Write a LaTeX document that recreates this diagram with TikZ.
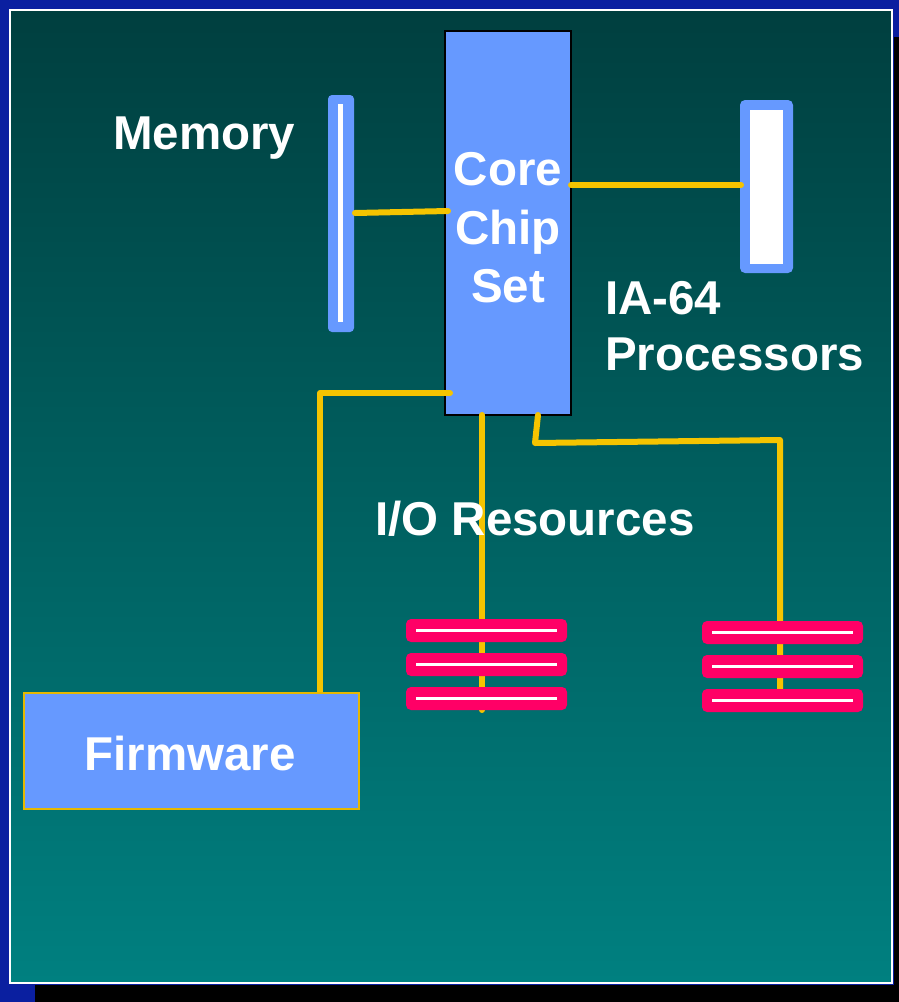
\documentclass[tikz,border=0pt]{standalone}
\usepackage{fontspec}
\setmainfont{Liberation Sans}
\definecolor{slideblue}{HTML}{0A1FA0}
\definecolor{tealtop}{HTML}{003F3F}
\definecolor{tealbot}{HTML}{008080}
\definecolor{boxblue}{HTML}{6699FF}
\definecolor{wire}{HTML}{F5C400}
\definecolor{iopink}{HTML}{FF0066}
\definecolor{fwedge}{HTML}{E6B800}
\tikzset{
  lbl/.style={text=white, font=\fontsize{47.5}{56}\selectfont\bfseries, inner sep=0pt},
  wireline/.style={draw=wire, line width=6pt, line cap=round, line join=round},
  iobar/.style={fill=iopink, rounded corners=5pt},
  ioline/.style={draw=white, line width=3pt},
}
\begin{document}
\begin{tikzpicture}[x=1pt,y=-1pt]
\useasboundingbox (0,0) rectangle (899,1002);
% slide background
\fill[slideblue] (0,0) rectangle (899,1002);
\fill[black] (35,985) rectangle (899,1002);
\fill[black] (894,37) rectangle (899,1002);
\shade[top color=tealtop, bottom color=tealbot] (10,10) rectangle (892,983);
\draw[white, line width=2pt] (10,10) rectangle (892,983);

% connectors (drawn below boxes)
\coordinate (cm1) at (355,213);
\coordinate (cm2) at (448,211);
\coordinate (cp1) at (571,185);
\coordinate (cp2) at (741,185);
\coordinate (cf0) at (450,393);
\coordinate (cf1) at (320,393);
\coordinate (cf2) at (320,693);
\coordinate (ci0) at (482,415);
\coordinate (ci1) at (482,710);
\coordinate (cj0) at (538,415);
\coordinate (cj1) at (535,443);
\coordinate (cj2) at (780,440);
\coordinate (cj3) at (780,690);

% chip set
\node[fill=boxblue, draw=black, line width=1.5pt, minimum width=126pt, minimum height=384pt, inner sep=0pt] (chip) at (508,223) {};
\node[lbl, anchor=base] (t1) at (508,185) {Core};
\node[lbl, anchor=base] (t2) at (508,244) {Chip};
\node[lbl, anchor=base] (t3) at (508,302) {Set};

% memory
\node[fill=boxblue, rounded corners=4pt, minimum width=26pt, minimum height=237pt, inner sep=0pt] (mem) at (341,213.5) {};
\draw[white, line width=5pt] (340,104) -- (340,322);
\node[lbl, anchor=base west] (memt) at (113,149) {Memory};

% processor
\node[fill=boxblue, rounded corners=5pt, minimum width=53pt, minimum height=173pt, inner sep=0pt] (proc) at (766.5,186.5) {};
\fill[white] (750,110) rectangle (783,264);
\node[lbl, anchor=base west] (pt1) at (605,314) {IA-64};
\node[lbl, anchor=base west] (pt2) at (605,370) {Processors};

% wires
\draw[wireline] (cm1) -- (cm2);
\draw[wireline] (cp1) -- (cp2);
\draw[wireline] (cf0) -- (cf1) -- (cf2);
\draw[wireline] (ci0) -- (ci1);
\draw[wireline] (cj0) -- (cj1) -- (cj2) -- (cj3);

\node[lbl, anchor=base west] (iot) at (375,535) {I/O Resources};

% I/O stacks
\foreach \y [count=\i] in {619,653,687} {
  \fill[iobar] (406,\y) rectangle (567,\y+23);
  \draw[ioline] (416,\y+11.5) -- (557,\y+11.5);
}
\foreach \y [count=\i] in {621,655,689} {
  \fill[iobar] (702,\y) rectangle (863,\y+23);
  \draw[ioline] (712,\y+11.5) -- (853,\y+11.5);
}

% firmware
\node[fill=boxblue, draw=fwedge, line width=1.5pt, minimum width=335pt, minimum height=116pt, inner sep=0pt] (fw) at (191.5,751) {};
\node[lbl, anchor=base] (fwt) at (190,770) {Firmware};
\end{tikzpicture}
\end{document}
